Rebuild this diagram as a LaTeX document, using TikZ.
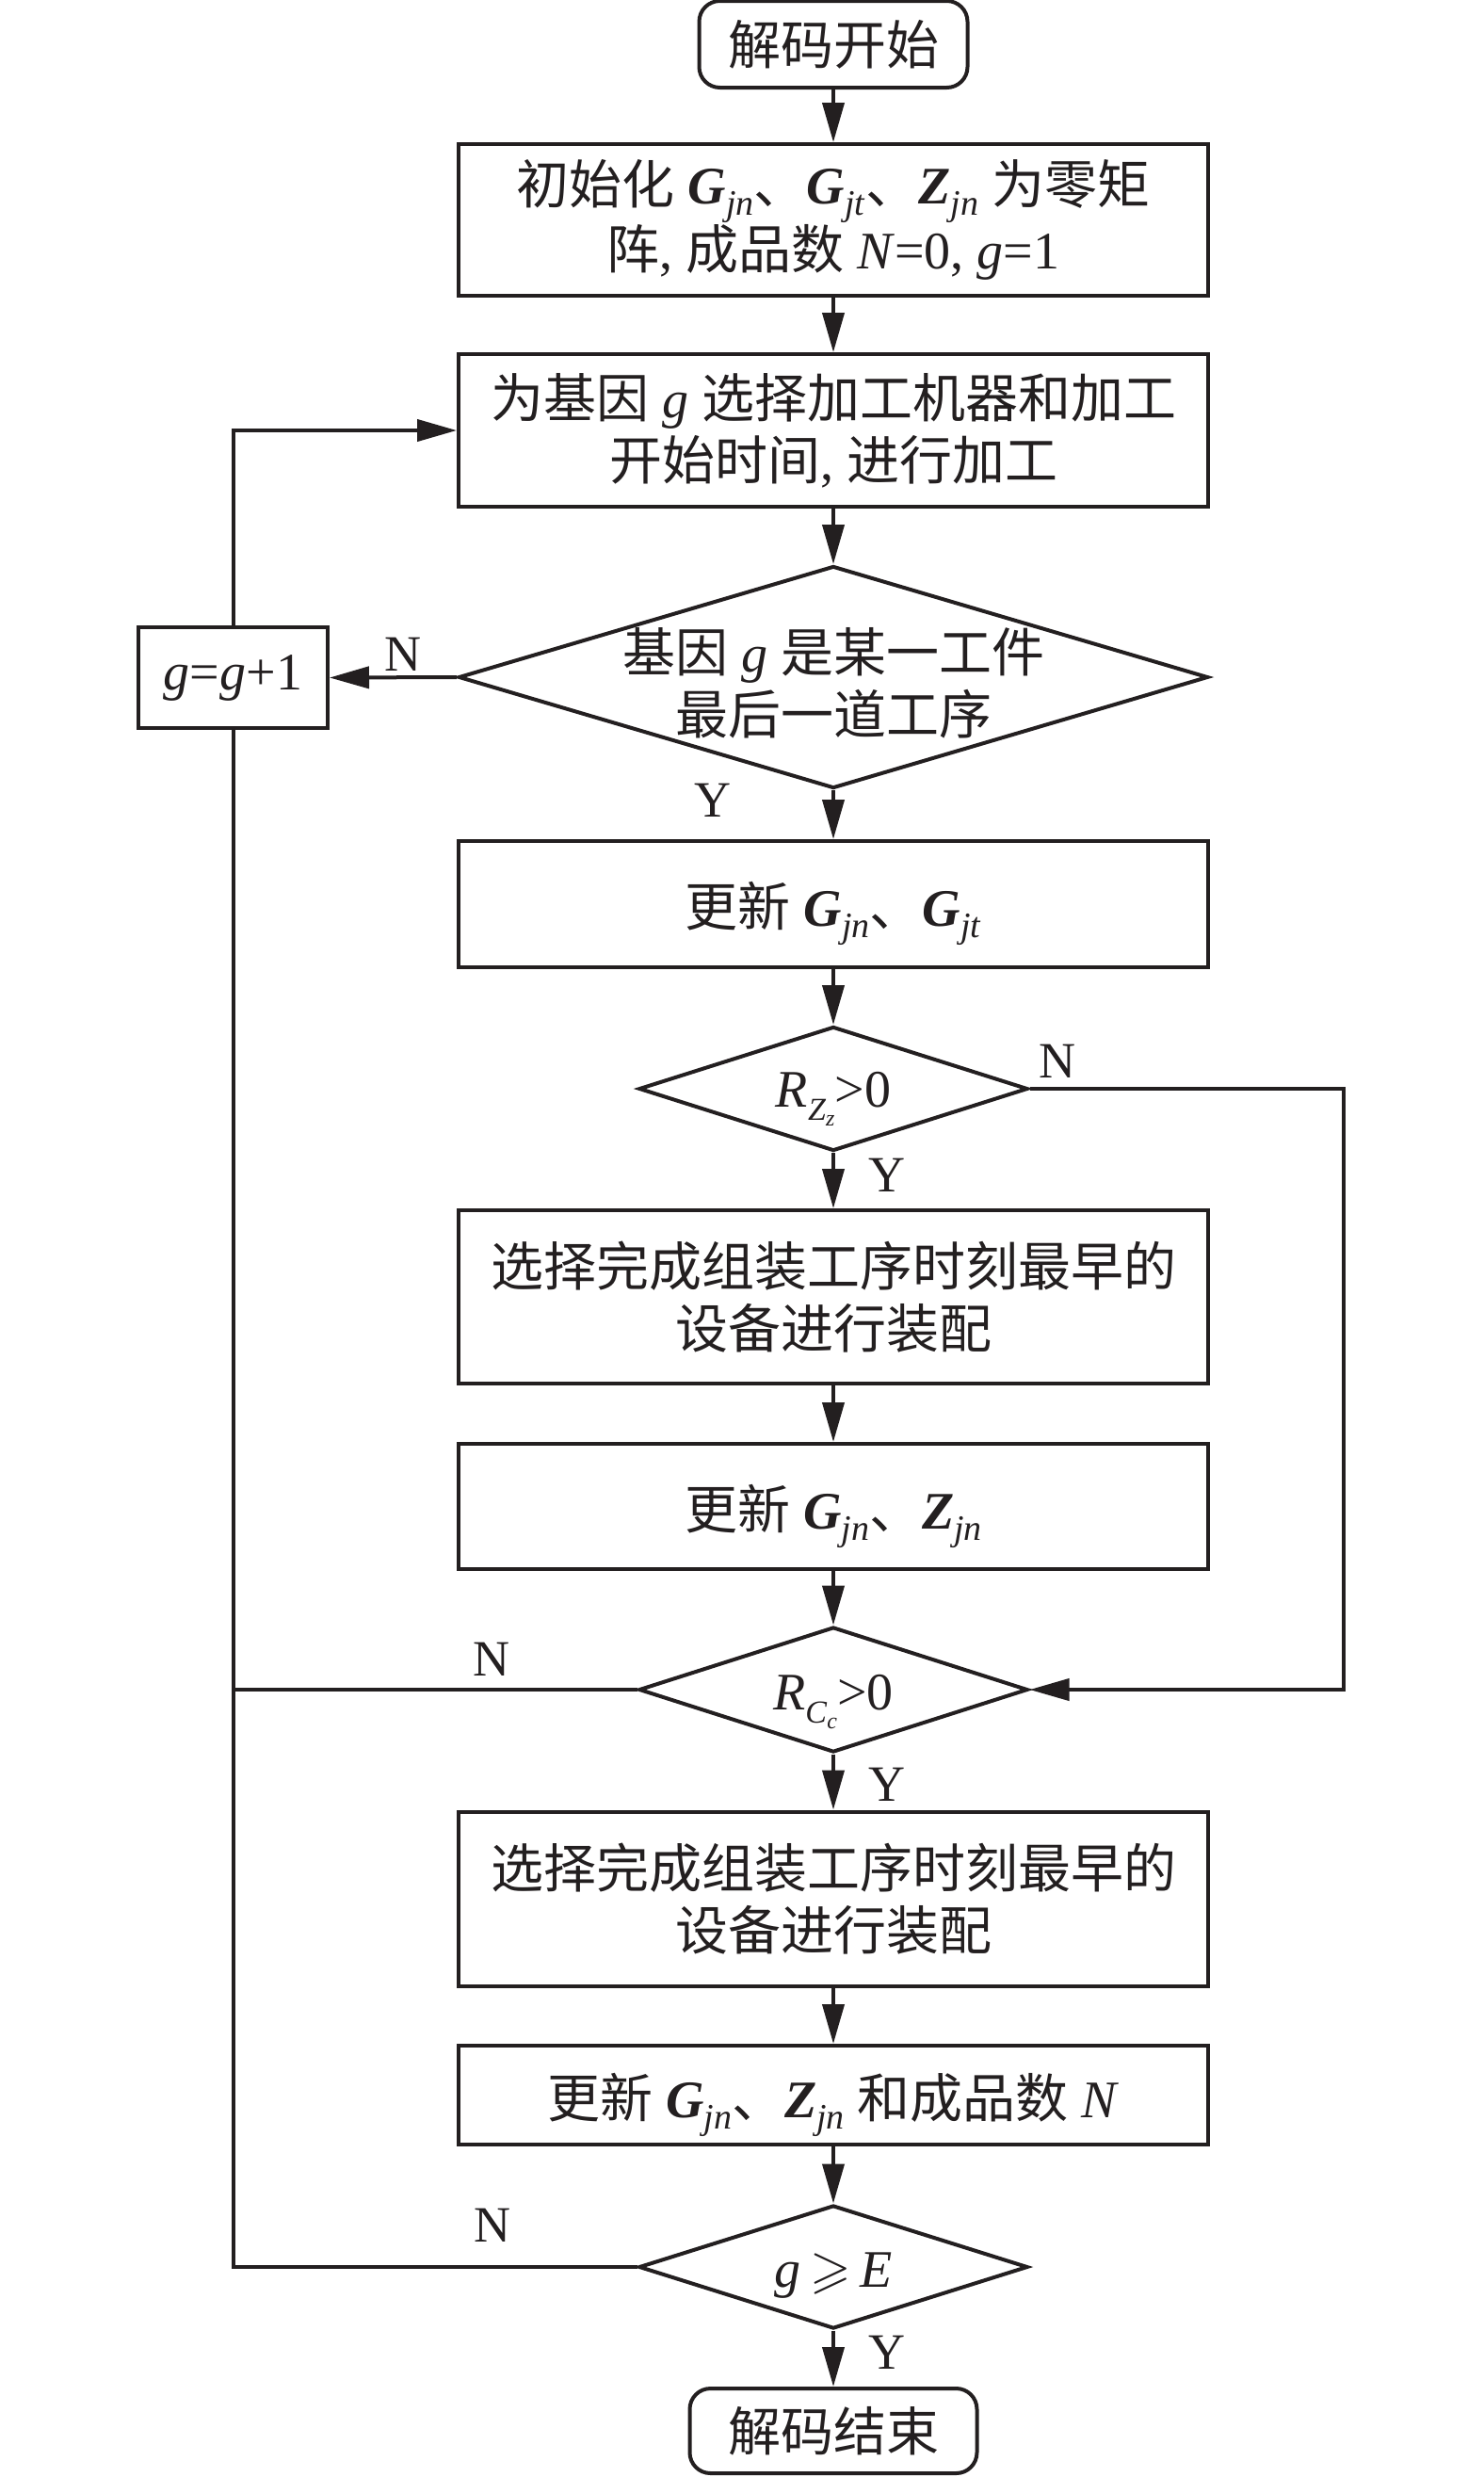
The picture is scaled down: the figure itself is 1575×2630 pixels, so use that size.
\documentclass[tikz,border=0pt]{standalone}
\usepackage{fontspec}
\usepackage{amssymb}
\setmainfont{Liberation Serif}
\newfontfamily\cjk{Noto Sans CJK SC}
\usetikzlibrary{shapes.geometric,arrows.meta}
\definecolor{ink}{HTML}{231F20}
\newcommand\zh[1]{{\cjk #1}}
\newcommand\bsub[2]{\textbf{\textit{#1}}\raisebox{-6pt}{\fontsize{19}{19}\selectfont\textit{#2}}}
\newcommand\rsub[2]{\textit{R}\raisebox{-7pt}{\fontsize{17}{17}\selectfont\textit{#1}\raisebox{-3pt}{\fontsize{12}{12}\selectfont\textit{#2}}}}
\begin{document}
\begin{tikzpicture}[x=0.5pt,y=-0.5pt,
  every node/.style={text=ink},
  proc/.style={draw=ink, line width=2pt, minimum width=398pt, inner sep=0pt,
    align=center, font=\fontsize{28}{33}\selectfont},
  oneline/.style={text depth=0pt},
  term/.style={draw=ink, line width=2pt, rounded corners=11pt, inner sep=0pt,
    align=center, font=\fontsize{28}{33}\selectfont},
  dia/.style={draw=ink, line width=2pt, diamond, inner sep=0pt},
  dtxt/.style={align=center, inner sep=0pt, font=\fontsize{28}{33}\selectfont},
  lbl/.style={inner sep=0pt, font=\fontsize{27}{27}\selectfont},
  arr/.style={draw=ink, line width=2pt, -{Triangle[length=21pt,width=11.5pt]}},
  ln/.style={draw=ink, line width=2pt}]
\useasboundingbox (0,0) rectangle (1575,2630);

\node[term, minimum width=142.5pt, minimum height=46pt] (start) at (885,47) {\zh{解码开始}};
\node[proc, minimum height=80.5pt] (b1) at (885,233.5)
  {\zh{初始化} \bsub{G}{jn}\zh{、}\bsub{G}{jt}\zh{、}\bsub{Z}{jn} \zh{为零矩}\\
   \zh{阵}, \zh{成品数} \textit{N}=0, \textit{g}=1};
\node[proc, minimum height=81pt] (b2) at (885,457)
  {\zh{为基因} \textit{g} \zh{选择加工机器和加工}\\ \zh{开始时间}, \zh{进行加工}};
\node[dia, minimum width=398pt, minimum height=118pt] (d1) at (885,719) {};
\node[dtxt] (d1t) at ([yshift=-3pt]d1.center) {\zh{基因} \textit{g} \zh{是某一工件}\\ \zh{最后一道工序}};
\node[proc, minimum width=100.5pt, minimum height=53.5pt] (gb) at (247.5,719.5) {\textit{g}=\textit{g}+1};
\node[proc, oneline, minimum height=67pt] (b3) at (885,960) {\zh{更新} \bsub{G}{jn}\zh{、}\bsub{G}{jt}};
\node[dia, minimum width=206.5pt, minimum height=66pt] (d2) at (885,1156) {};
\node[dtxt, anchor=base] (d2t) at ([yshift=-9.5pt]d2.center) {\rsub{Z}{z}>0};
\node[proc, minimum height=92pt] (b4) at (885,1377)
  {\zh{选择完成组装工序时刻最早的}\\ \zh{设备进行装配}};
\node[proc, oneline, minimum height=66.5pt] (b5) at (885,1599.5) {\zh{更新} \bsub{G}{jn}\zh{、}\bsub{Z}{jn}};
\node[dia, minimum width=206.5pt, minimum height=66.5pt] (d3) at (885,1794) {};
\node[dtxt, anchor=base] (d3t) at ([yshift=-10.5pt]d3.center) {\rsub{C}{c}>0};
\node[proc, minimum height=92.5pt] (b6) at (885,2016)
  {\zh{选择完成组装工序时刻最早的}\\ \zh{设备进行装配}};
\node[proc, oneline, minimum height=52.5pt] (b7) at (885,2224.5)
  {\zh{更新} \bsub{G}{jn}\zh{、}\bsub{Z}{jn} \zh{和成品数} \textit{N}};
\node[dia, minimum width=206.5pt, minimum height=65.5pt] (d4) at (885,2407) {};
\node[dtxt, anchor=base] (d4t) at ([yshift=-10.5pt]d4.center) {\textit{g}\,$\geqslant$\,\textit{E}};
\node[term, minimum width=152.5pt, minimum height=45pt] (end) at (885,2581) {\zh{解码结束}};

\coordinate (rc) at (1427,1156);

\draw[arr] (start) -- (b1);
\draw[arr] (b1) -- (b2);
\draw[arr] (b2) -- (d1);
\draw[arr] (d1.south) -- (b3.north);
\draw[arr] (b3) -- (d2);
\draw[arr] (d2.south) -- (b4.north);
\draw[arr] (b4) -- (b5);
\draw[arr] (b5) -- (d3);
\draw[arr] (d3.south) -- (b6.north);
\draw[arr] (b6) -- (b7);
\draw[arr] (b7) -- (d4);
\draw[arr] (d4.south) -- (end.north);
\draw[arr] (d1.west) -- (gb.east);
\draw[arr] (gb.north) |- (b2.west);
\draw[arr] (d2.east) -- (rc) |- (d3.east);
\draw[ln] (d3.west) -- (gb.south |- d3.west);
\draw[ln] (d4.west) -| (gb.south);

\node[lbl] (n1) at (428,695) {N};
\node[lbl] (y1) at (757,850) {Y};
\node[lbl] (n2) at (1123,1127) {N};
\node[lbl] (y2) at (942,1248) {Y};
\node[lbl] (n3) at (522,1762) {N};
\node[lbl] (y3) at (942,1895) {Y};
\node[lbl] (n4) at (523,2363) {N};
\node[lbl] (y4) at (942,2498) {Y};
\end{tikzpicture}
\end{document}
